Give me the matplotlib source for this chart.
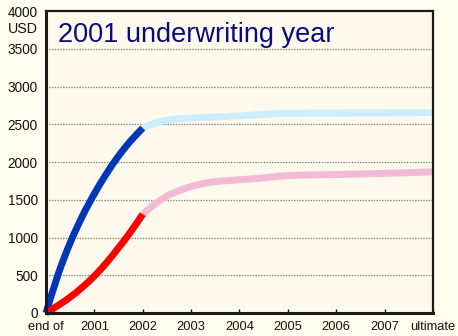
import matplotlib
matplotlib.use("Agg")
import matplotlib.pyplot as plt
from matplotlib.path import Path
from matplotlib.patches import PathPatch

plt.rcParams['font.family'] = ['Liberation Sans', 'DejaVu Sans']

# Development periods (0 = end of 2001 start, 8 = ultimate)
x_labels = ["end of", "2001", "2002", "2003", "2004", "2005", "2006", "2007", "ultimate"]
y_ticks = [0, 500, 1000, 1500, 2000, 2500, 3000, 3500, 4000]

# Incurred (paid + reserves) - actual development to 2002
incurred_x = [0, 0.25, 0.5, 0.75, 1.0, 1.25, 1.5, 1.75, 2.0]
incurred_y = [0, 510, 930, 1280, 1580, 1845, 2080, 2280, 2450]

# Incurred - projected development
incurred_proj_x = [2.0, 2.25, 2.5, 2.75, 3.0, 3.5, 4.0, 4.5, 5.0, 6.0, 7.0, 8.0]
incurred_proj_y = [2450, 2515, 2555, 2572, 2582, 2597, 2612, 2630, 2645, 2650, 2652, 2655]

# Paid - actual development to 2002
paid_x = [0, 0.25, 0.5, 0.75, 1.0, 1.25, 1.5, 1.75, 2.0]
paid_y = [0, 100, 210, 340, 490, 665, 865, 1075, 1310]

# Paid - projected development
paid_proj_x = [2.0, 2.25, 2.5, 2.75, 3.0, 3.25, 3.5, 4.0, 4.5, 5.0, 6.0, 7.0, 8.0]
paid_proj_y = [1310, 1440, 1550, 1620, 1675, 1715, 1740, 1765, 1790, 1820, 1835, 1850, 1870]


def smooth_line(ax, xs, ys, color, lw, zorder, clip=True):
    """Draw a smoothed (Catmull-Rom style Bezier) line through the points."""
    pts = list(zip(xs, ys))
    n = len(pts)
    verts = [pts[0]]
    codes = [Path.MOVETO]
    for i in range(n - 1):
        p0 = pts[i - 1] if i > 0 else pts[i]
        p1 = pts[i]
        p2 = pts[i + 1]
        p3 = pts[i + 2] if i + 2 < n else pts[i + 1]
        c1 = (p1[0] + (p2[0] - p0[0]) / 6, p1[1] + (p2[1] - p0[1]) / 6)
        c2 = (p2[0] - (p3[0] - p1[0]) / 6, p2[1] - (p3[1] - p1[1]) / 6)
        verts += [c1, c2, p2]
        codes += [Path.CURVE4, Path.CURVE4, Path.CURVE4]
    patch = PathPatch(Path(verts, codes), fill=False, edgecolor=color, lw=lw,
                      capstyle='butt', joinstyle='round', zorder=zorder,
                      transform=ax.transData)
    patch.set_clip_on(clip)
    ax.add_patch(patch)


fig = plt.figure(figsize=(4.58, 3.36), dpi=100)
fig.patch.set_facecolor('#FFFFEF')
ax = fig.add_axes([0.1004, 0.0685, 0.845, 0.8985])
ax.set_facecolor('#FDF9EC')

lw = 5.0
smooth_line(ax, incurred_proj_x, incurred_proj_y, '#CCEEFC', lw, 3)
smooth_line(ax, paid_proj_x, paid_proj_y, '#F2BAD4', lw, 3)
smooth_line(ax, incurred_x, incurred_y, '#0036B8', lw, 4, clip=False)
smooth_line(ax, paid_x, paid_y, '#FF0000', lw, 4, clip=False)

ax.set_xlim(0, 8)
ax.set_ylim(0, 4000)
ax.set_xticks(range(len(x_labels)))
ax.set_xticklabels(x_labels)
ax.set_yticks(y_ticks)
ax.set_yticklabels([str(v) for v in y_ticks])

ax.tick_params(axis='y', length=0, pad=6, labelsize=9.8, colors='#111111')
ax.tick_params(axis='x', direction='in', length=3, width=1, pad=5.5, labelsize=9.3, colors='#111111')

for v in y_ticks[1:-1]:
    ax.axhline(v, color='#8A8A80', lw=0.9, ls=(0, (1.2, 1.0)), zorder=1)

for side, w in [('left', 2.2), ('bottom', 2.2), ('top', 1.6), ('right', 1.6)]:
    ax.spines[side].set_linewidth(w)
    ax.spines[side].set_color('#1A1A1A')
    ax.spines[side].set_zorder(5)

ax.text(0.031, 0.897, "2001 underwriting year", transform=ax.transAxes,
        fontsize=19.5, color='#0A0A80', va='baseline', ha='left')

fig.text(38 / 458, 1 - 29 / 336, "USD", fontsize=10.3, color='#111111',
         ha='right', va='center')

fig.savefig("out.png", dpi=100, facecolor=fig.get_facecolor())
